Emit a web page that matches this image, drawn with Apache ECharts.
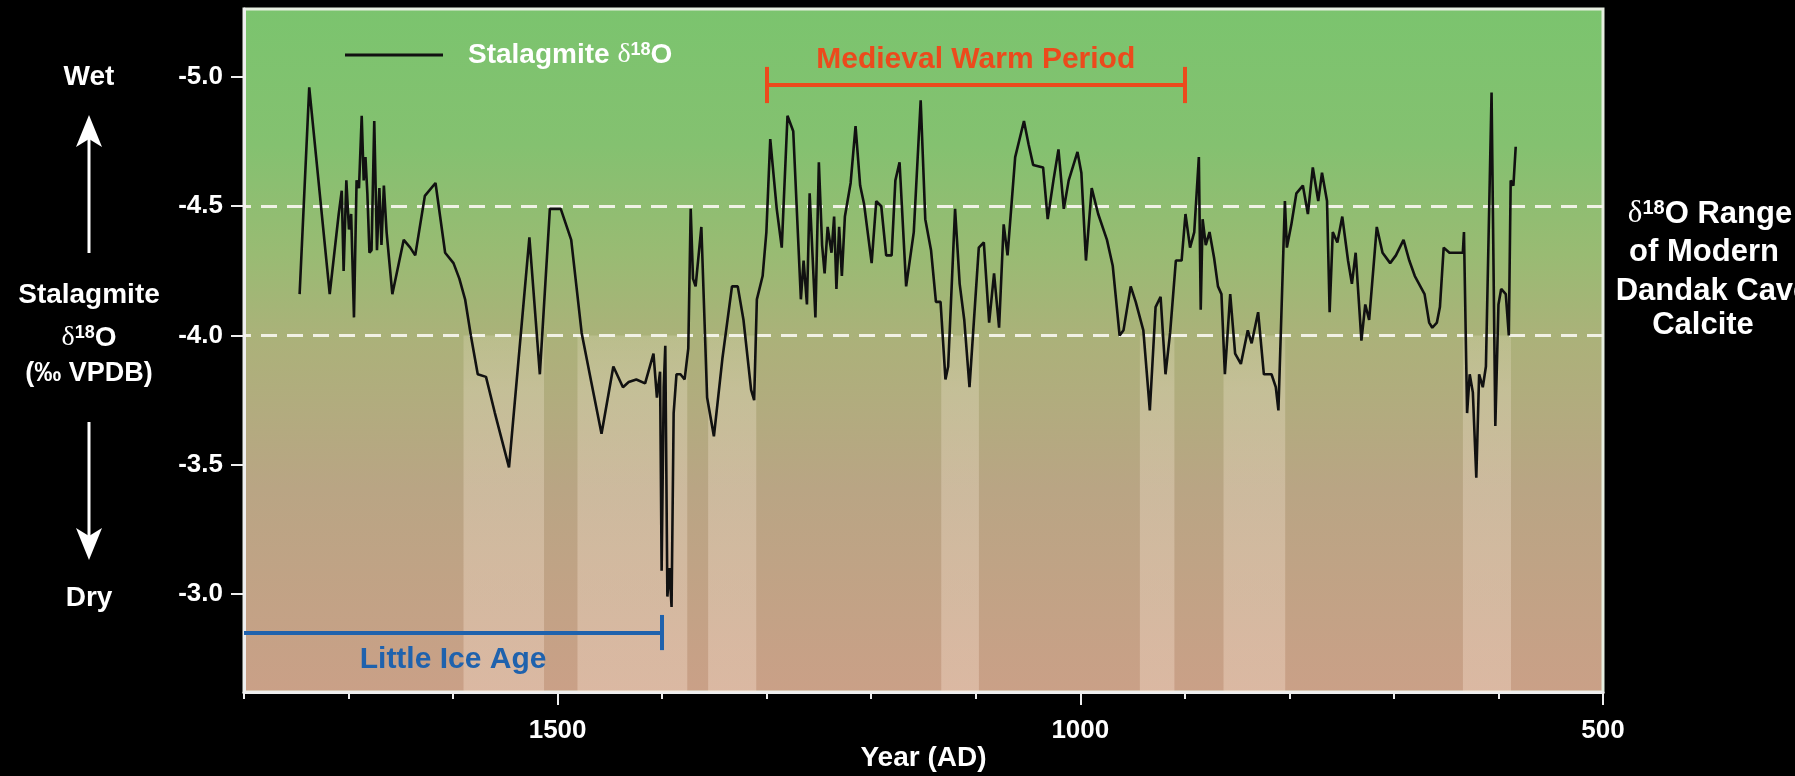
<!DOCTYPE html>
<html><head><meta charset="utf-8">
<script src="https://cdn.jsdelivr.net/npm/echarts@6/dist/echarts.min.js"></script>
<style>html,body{margin:0;padding:0;background:#000;} #c{width:1795px;height:776px;}</style>
</head><body><div id="c"></div>
<script>
// ---- data ----
const years = [1746.8,1737.6,1718,1709.4,1706.5,1704.7,1702.1,1699.6,1697.5,1694.8,1692.3,1690,1687.4,1685.5,1683.8,1682,1680,1678,1675.4,1672.8,1670.5,1668.5,1666.2,1663.6,1658.1,1647.2,1641,1636.2,1627,1616.8,1607.6,1599.6,1594,1588.5,1583,1576.4,1568.5,1560,1546.5,1527,1517,1507.4,1497,1487,1477,1467.8,1458,1446.7,1437.5,1432,1424.7,1416.3,1408.3,1405,1402,1400.5,1398.5,1397,1395,1393,1391,1389,1386.3,1382.5,1378.5,1375,1372.7,1370.5,1368,1362.5,1357,1350.5,1342.4,1333.2,1327.7,1322.2,1314.9,1312,1309.4,1303.9,1300.3,1296.6,1290.4,1285.6,1280.1,1274.6,1267.3,1264.7,1261.5,1258.9,1253.4,1250.1,1247,1244.6,1241.7,1238,1235.5,1233.3,1230.7,1228.1,1225.2,1219.7,1215,1210.6,1206.9,1199.6,1195.2,1190.4,1185.7,1180.5,1176.9,1172.9,1166.6,1159.3,1152.7,1148.3,1142.8,1138.1,1133.7,1129,1126.4,1119.8,1115.4,1111,1106,1097.1,1092.3,1087.2,1082.5,1077.7,1073.3,1069.6,1062.3,1053.9,1049.5,1045.1,1035.6,1031.2,1025.7,1020.9,1015.8,1011.1,1002.7,999,994.6,989.1,982.9,974.5,969,962.4,958.7,951.8,947,939.7,933.5,928,923.2,918.5,914.1,908.6,903.1,899.4,895,891,886.6,884.8,883,880,876.4,872,868.3,865,861.7,856.6,851.9,846.4,839.8,836.1,829.9,824.4,817.1,813,810.5,804.3,802.4,798.1,793.3,787.1,782.3,777.6,772.4,768.8,764,761.5,758.5,754.1,749.4,743.9,740.2,736.6,731.1,727.4,723.7,716.4,710.9,703.6,698.1,690.8,685.3,680,670.7,666.3,663.3,658.9,656,652.4,646.9,641.4,634.1,633,630,627.5,624.5,621.2,618.5,615,612,606.6,603,600,597.4,593,590.1,588.3,585.7,583.5];
const d18O = [-4.16,-4.96,-4.16,-4.47,-4.56,-4.25,-4.60,-4.41,-4.47,-4.07,-4.60,-4.57,-4.85,-4.60,-4.69,-4.55,-4.32,-4.33,-4.83,-4.33,-4.57,-4.35,-4.58,-4.40,-4.16,-4.37,-4.34,-4.31,-4.54,-4.59,-4.32,-4.28,-4.22,-4.14,-4.00,-3.85,-3.84,-3.70,-3.49,-4.38,-3.85,-4.49,-4.49,-4.37,-4.01,-3.82,-3.62,-3.88,-3.80,-3.82,-3.83,-3.815,-3.93,-3.76,-3.86,-3.09,-3.80,-3.96,-2.99,-3.10,-2.95,-3.70,-3.85,-3.85,-3.83,-3.95,-4.49,-4.22,-4.19,-4.42,-3.76,-3.61,-3.91,-4.19,-4.19,-4.06,-3.79,-3.75,-4.14,-4.23,-4.40,-4.76,-4.49,-4.34,-4.85,-4.79,-4.14,-4.29,-4.12,-4.55,-4.07,-4.67,-4.35,-4.24,-4.42,-4.32,-4.46,-4.18,-4.42,-4.23,-4.46,-4.59,-4.81,-4.58,-4.51,-4.28,-4.52,-4.50,-4.31,-4.31,-4.60,-4.67,-4.19,-4.40,-4.91,-4.45,-4.33,-4.13,-4.13,-3.83,-3.88,-4.49,-4.20,-4.06,-3.80,-4.34,-4.36,-4.05,-4.24,-4.03,-4.43,-4.31,-4.69,-4.83,-4.74,-4.66,-4.65,-4.45,-4.60,-4.72,-4.49,-4.60,-4.71,-4.63,-4.29,-4.57,-4.47,-4.37,-4.27,-4.00,-4.02,-4.19,-4.13,-4.02,-3.71,-4.11,-4.15,-3.85,-4.01,-4.29,-4.29,-4.47,-4.34,-4.40,-4.69,-4.10,-4.45,-4.35,-4.40,-4.30,-4.19,-4.16,-3.85,-4.16,-3.93,-3.89,-4.02,-3.97,-4.09,-3.85,-3.85,-3.80,-3.71,-4.52,-4.34,-4.43,-4.55,-4.58,-4.47,-4.65,-4.52,-4.63,-4.52,-4.09,-4.40,-4.36,-4.46,-4.29,-4.20,-4.32,-3.98,-4.12,-4.06,-4.42,-4.32,-4.28,-4.31,-4.37,-4.29,-4.23,-4.16,-4.05,-4.03,-4.05,-4.11,-4.34,-4.32,-4.32,-4.32,-4.40,-3.70,-3.85,-3.78,-3.45,-3.85,-3.80,-3.88,-4.94,-3.65,-4.12,-4.18,-4.16,-4.00,-4.60,-4.58,-4.73];
const droughtBands = [[1590,1513],[1481,1376],[1356,1310],[1133,1097],[943,910],[863,804],[634,588]];
const modernRange = [-4.5, -4.0];
const mwpSpan = [1300, 900];
const liaSpan = [1800, 1400];
const xMajorTicks = [1500, 1000, 500];
const xMinorTicks = [1800,1700,1600,1400,1300,1200,1100,900,800,700,600];
const yTicks = [-5.0, -4.5, -4.0, -3.5, -3.0];
const X_MIN = 500, X_MAX = 1800, Y_MIN = -5.263, Y_MAX = -2.621;
const MWP_LEVEL = -4.969, MWP_CAP = [-5.039, -4.899];
const LIA_LEVEL = -2.849, LIA_CAP = [-2.919, -2.783];

const FONT = '"Liberation Sans", Arial, sans-serif';
const seriesData = years.map((y, i) => [y, d18O[i]]);

const chart = echarts.init(document.getElementById('c'), null, {renderer: 'canvas'});
const bg = {type: 'linear', x: 0, y: 0, x2: 0, y2: 1, colorStops: [
  {offset: 0, color: '#7bc46e'}, {offset: 0.2, color: '#84c170'},
  {offset: 0.36, color: '#99bb73'}, {offset: 0.49, color: '#acb17a'},
  {offset: 0.7, color: '#b9a584'}, {offset: 1, color: '#caa087'}]};

const option = {
  backgroundColor: '#000',
  animation: false,
  grid: {left: 244, right: 192, top: 9, bottom: 84, show: true, backgroundColor: bg,
         borderColor: '#e6eee0', borderWidth: 3, containLabel: false, outerBoundsMode: 'none'},
  legend: {
    data: ['Stalagmite δ18O'], left: 340, top: 36, icon: 'rect', itemWidth: 98, itemHeight: 3,
    itemStyle: {color: '#111'},
    formatter: () => '{a|Stalagmite }{d|δ}{s|18}{a|O}',
    textStyle: {color: '#fff', padding: [0, 0, 0, 20], rich: {
      a: {fontSize: 28, fontWeight: 'bold', fontFamily: FONT, color: '#fff'},
      d: {fontSize: 28, fontFamily: '"Liberation Serif", serif', color: '#fff'},
      s: {fontSize: 18, fontWeight: 'bold', fontFamily: FONT, color: '#fff', verticalAlign: 'top'}
    }}
  },
  xAxis: [{
    type: 'value', min: X_MIN, max: X_MAX, inverse: true, position: 'bottom',
    splitLine: {show: false},
    axisLine: {show: true, lineStyle: {color: '#eeeeee', width: 3}},
    axisTick: {show: true, length: 7, customValues: xMinorTicks, lineStyle: {color: '#eeeeee', width: 2}},
    axisLabel: {show: true, customValues: xMajorTicks, margin: 26, color: '#fff', fontSize: 26,
                fontWeight: 'bold', fontFamily: FONT, formatter: v => String(v)},
    name: 'Year (AD)', nameLocation: 'middle', nameGap: 52, nameMoveOverlap: false,
    nameTextStyle: {color: '#fff', fontSize: 28, fontWeight: 'bold', fontFamily: FONT}
  }, {
    type: 'value', min: X_MIN, max: X_MAX, inverse: true, position: 'bottom',
    splitLine: {show: false}, axisLine: {show: false}, axisLabel: {show: false},
    axisTick: {show: true, length: 13, customValues: xMajorTicks, lineStyle: {color: '#eeeeee', width: 2}}
  }],
  yAxis: {
    type: 'value', min: Y_MIN, max: Y_MAX, inverse: true,
    splitLine: {show: false},
    axisLine: {show: true, lineStyle: {color: '#eeeeee', width: 3}},
    axisTick: {show: true, length: 13, customValues: yTicks, lineStyle: {color: '#eeeeee', width: 2}},
    axisLabel: {show: true, customValues: yTicks, margin: 21, color: '#fff', fontSize: 26,
                fontWeight: 'bold', fontFamily: FONT, formatter: v => v.toFixed(1)}
  },
  series: [
    { // drought bands
      type: 'line', data: [], silent: true, z: 1,
      markArea: {silent: true, itemStyle: {color: {type: 'linear', x: 0, y: 0, x2: 0, y2: 1, colorStops: [
          {offset: 0, color: 'rgba(255,245,225,0.18)'}, {offset: 0.15, color: 'rgba(255,242,225,0.26)'},
          {offset: 1, color: 'rgba(255,235,220,0.32)'}]}},
        data: droughtBands.map(b => [{xAxis: b[0], yAxis: modernRange[1]}, {xAxis: b[1], yAxis: Y_MAX}])}
    },
    { // modern range dashed lines
      type: 'line', data: [], silent: true, z: 2,
      markLine: {silent: true, symbol: ['none', 'none'], label: {show: false},
        lineStyle: {color: '#f4f4ea', width: 3, type: [16, 10], opacity: 0.95},
        data: modernRange.map(v => ({yAxis: v}))}
    },
    { // period brackets
      type: 'line', data: [], silent: true, z: 3,
      markLine: {silent: true, symbol: ['none', 'none'],
        data: [
          [{coord: [mwpSpan[0], MWP_LEVEL], lineStyle: {color: '#ec4a1c', width: 4, type: 'solid'},
            label: {show: true, position: 'insideMiddleTop', distance: 10, formatter: 'Medieval Warm Period',
                    color: '#ec4a1c', fontSize: 30, fontWeight: 'bold', fontFamily: FONT}},
           {coord: [mwpSpan[1], MWP_LEVEL]}],
          [{coord: [mwpSpan[0], MWP_CAP[0]], lineStyle: {color: '#ec4a1c', width: 4, type: 'solid'}, label: {show: false}},
           {coord: [mwpSpan[0], MWP_CAP[1]]}],
          [{coord: [mwpSpan[1], MWP_CAP[0]], lineStyle: {color: '#ec4a1c', width: 4, type: 'solid'}, label: {show: false}},
           {coord: [mwpSpan[1], MWP_CAP[1]]}],
          [{coord: [liaSpan[0], LIA_LEVEL], lineStyle: {color: '#1f62ad', width: 4, type: 'solid'},
            label: {show: true, position: 'insideMiddleBottom', distance: 12, formatter: 'Little Ice Age',
                    color: '#1f62ad', fontSize: 30, fontWeight: 'bold', fontFamily: FONT}},
           {coord: [liaSpan[1], LIA_LEVEL]}],
          [{coord: [liaSpan[1], LIA_CAP[0]], lineStyle: {color: '#1f62ad', width: 4, type: 'solid'}, label: {show: false}},
           {coord: [liaSpan[1], LIA_CAP[1]]}]
        ]}
    },
    {
      name: 'Stalagmite δ18O', type: 'line', data: seriesData, z: 5,
      showSymbol: false, symbol: 'none', lineStyle: {color: '#111', width: 2.6}, itemStyle: {color: '#111'}
    }
  ],
  graphic: [
    {type: 'text', x: 89, y: 77, style: {text: 'Wet', align: 'center', verticalAlign: 'middle', fill: '#fff', font: 'bold 28px ' + FONT}},
    {type: 'line', shape: {x1: 89, y1: 253, x2: 89, y2: 135}, style: {stroke: '#fff', lineWidth: 3}},
    {type: 'polygon', shape: {points: [[89, 115], [102, 147], [89, 139], [76, 147]]}, style: {fill: '#fff'}},
    {type: 'text', x: 89, y: 295, style: {text: 'Stalagmite', align: 'center', verticalAlign: 'middle', fill: '#fff', font: 'bold 28px ' + FONT}},
    {type: 'text', x: 89, y: 338, style: {text: '{d|δ}{s|18}{a|O}', align: 'center', verticalAlign: 'middle', rich: {
      a: {fontSize: 28, fontWeight: 'bold', fontFamily: FONT, fill: '#fff'},
      d: {fontSize: 28, fontFamily: '"Liberation Serif", serif', fill: '#fff'},
      s: {fontSize: 18, fontWeight: 'bold', fontFamily: FONT, fill: '#fff', verticalAlign: 'top'}}}},
    {type: 'text', x: 89, y: 374, style: {text: '(‰ VPDB)', align: 'center', verticalAlign: 'middle', fill: '#fff', font: 'bold 27px ' + FONT}},
    {type: 'line', shape: {x1: 89, y1: 422, x2: 89, y2: 540}, style: {stroke: '#fff', lineWidth: 3}},
    {type: 'polygon', shape: {points: [[89, 560], [102, 528], [89, 536], [76, 528]]}, style: {fill: '#fff'}},
    {type: 'text', x: 89, y: 598, style: {text: 'Dry', align: 'center', verticalAlign: 'middle', fill: '#fff', font: 'bold 28px ' + FONT}},
    {type: 'text', x: 1710, y: 214, style: {text: '{d|δ}{s|18}{a|O Range}', align: 'center', verticalAlign: 'middle', rich: {
      a: {fontSize: 31, fontWeight: 'bold', fontFamily: FONT, fill: '#fff'},
      d: {fontSize: 31, fontFamily: '"Liberation Serif", serif', fill: '#fff'},
      s: {fontSize: 20, fontWeight: 'bold', fontFamily: FONT, fill: '#fff', verticalAlign: 'top'}}}},
    {type: 'text', x: 1704, y: 252, style: {text: 'of Modern', align: 'center', verticalAlign: 'middle', fill: '#fff', font: 'bold 31px ' + FONT}},
    {type: 'text', x: 1713, y: 291, style: {text: 'Dandak Cave', align: 'center', verticalAlign: 'middle', fill: '#fff', font: 'bold 31px ' + FONT}},
    {type: 'text', x: 1703, y: 325, style: {text: 'Calcite', align: 'center', verticalAlign: 'middle', fill: '#fff', font: 'bold 31px ' + FONT}}
  ]
};
chart.setOption(option);
</script></body></html>
